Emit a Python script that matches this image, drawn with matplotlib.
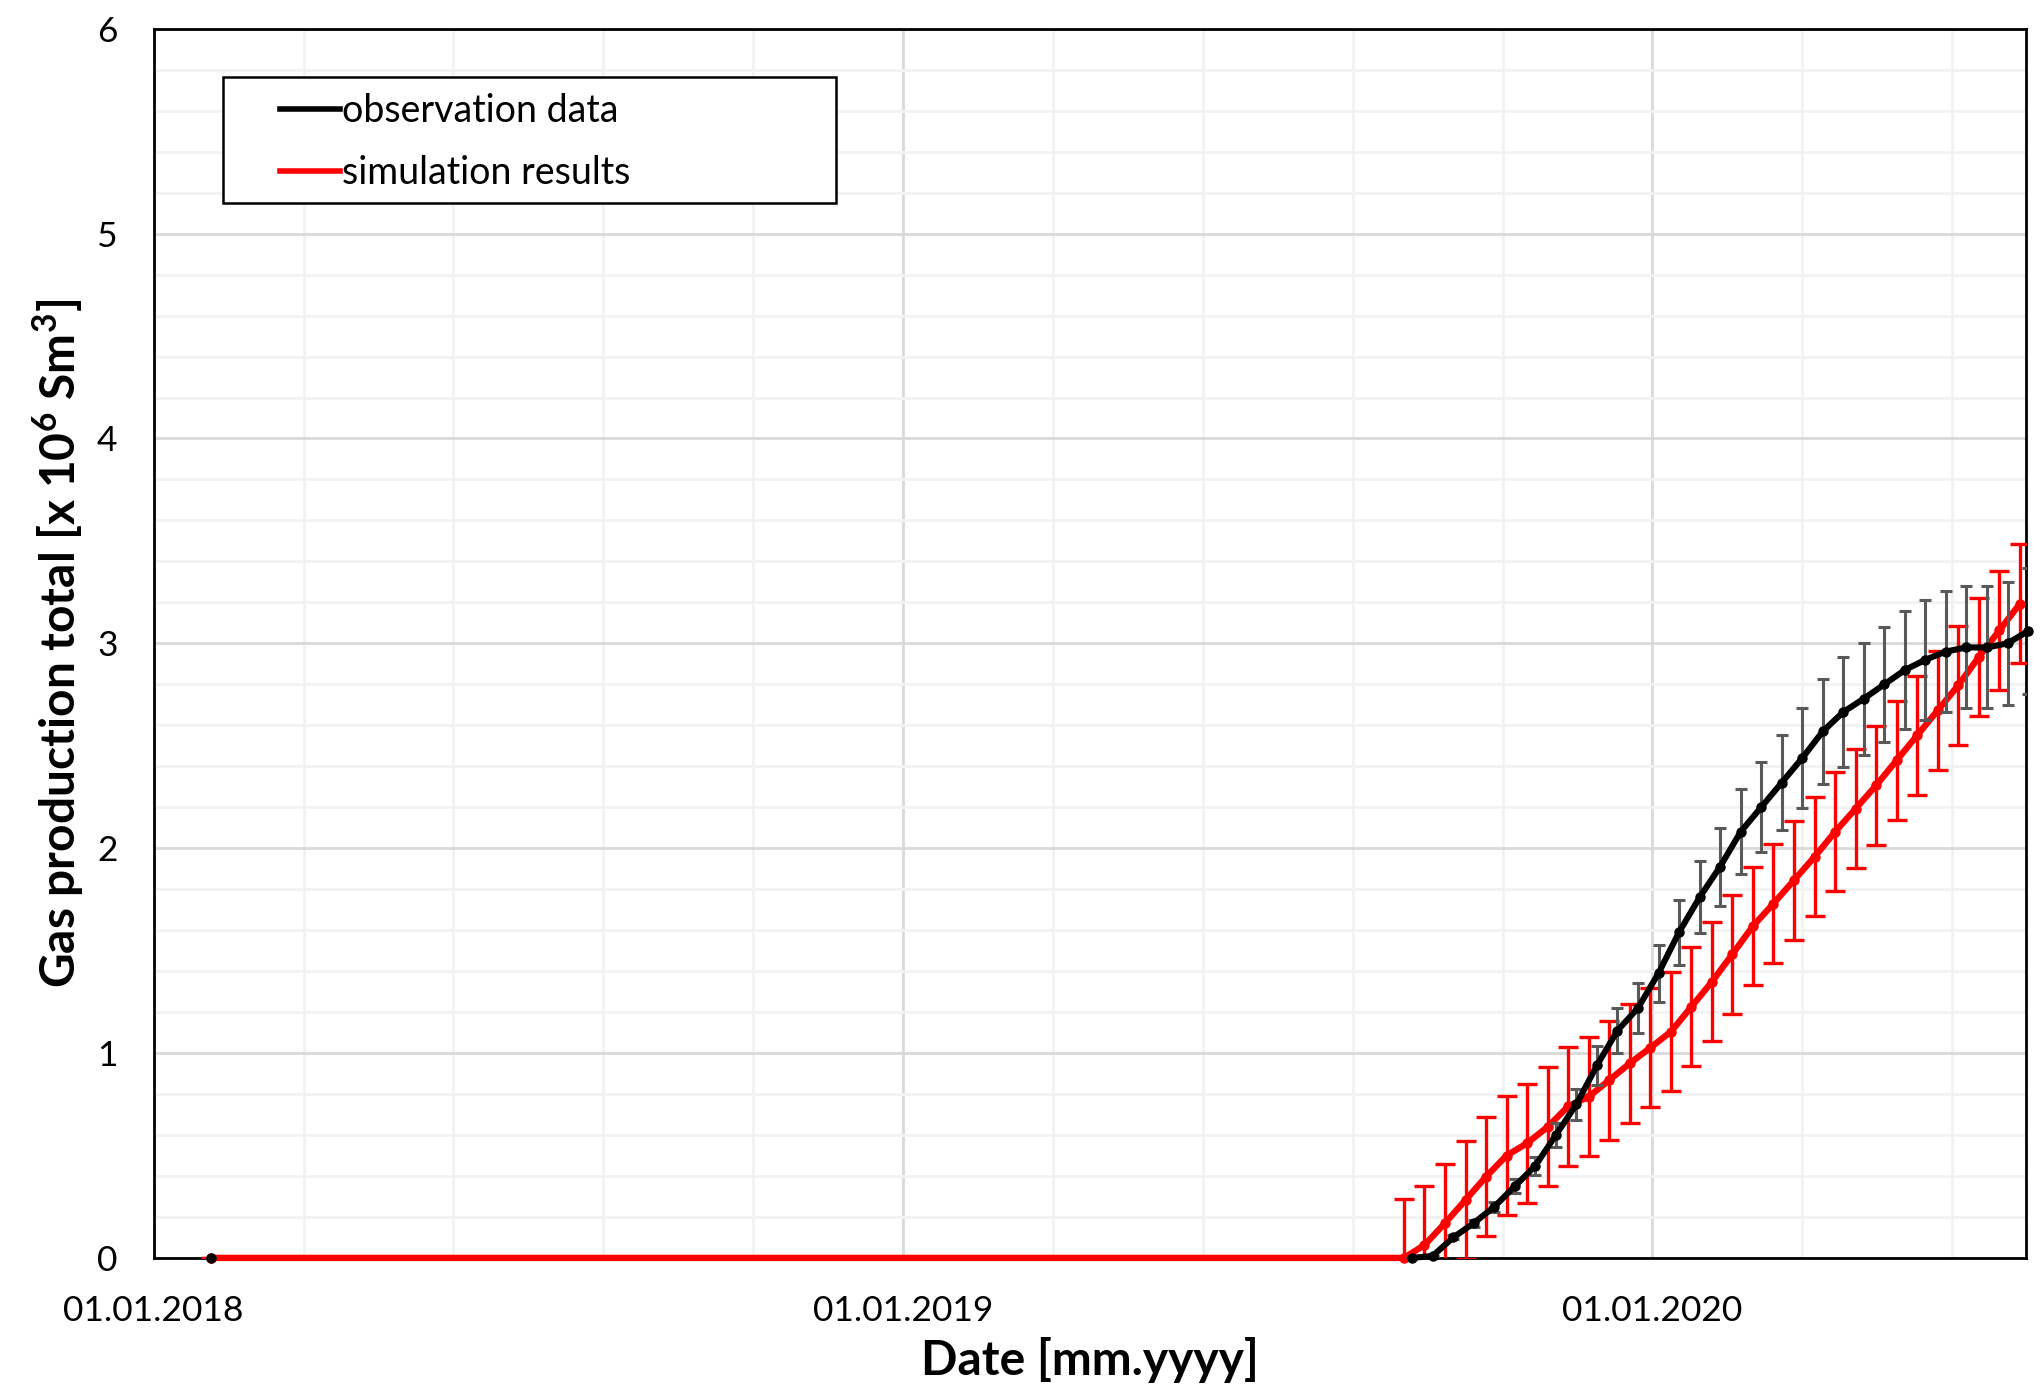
import numpy as np
import pandas as pd
import matplotlib
matplotlib.use("Agg")
import matplotlib.pyplot as plt
import matplotlib.dates as mdates
from matplotlib.patches import Rectangle
from matplotlib.lines import Line2D

plt.rcParams['font.family'] = ['Lato', 'DejaVu Sans']
plt.rcParams['mathtext.fontset'] = 'custom'
plt.rcParams['mathtext.rm'] = 'Lato'
plt.rcParams['mathtext.bf'] = 'Lato:bold'

# both series start with a single zero sample early in 2018
START_DATE = "2018-01-29"
START_VALUE = 0.0

# observation data, one sample every 10 days from OBS_FIRST  [x 10^6 Sm3]
OBS_FIRST = "2019-09-06"
obs_values = [0.00, 0.01, 0.10, 0.17, 0.25, 0.35, 0.45, 0.60, 0.75, 0.94,
              1.11, 1.22, 1.39, 1.59, 1.76, 1.91, 2.08, 2.20, 2.32, 2.44,
              2.57, 2.665, 2.73, 2.80, 2.87, 2.92, 2.96, 2.98, 2.98, 3.00,
              3.06]
OBS_ERR_PCT = 0.10   # percentage error bars

# simulation results, one sample every 10 days from SIM_FIRST
SIM_FIRST = "2019-09-02"
sim_values = [0.00, 0.063, 0.17, 0.283, 0.397, 0.50, 0.56, 0.64, 0.74, 0.787,
              0.868, 0.95, 1.026, 1.104, 1.226, 1.348, 1.483, 1.62, 1.73, 1.844,
              1.958, 2.08, 2.193, 2.307, 2.429, 2.551, 2.673, 2.795, 2.933, 3.063,
              3.193]
SIM_ERR = 0.29       # fixed error bars

STEP_DAYS = 10

X_MIN = "2018-01-01"
X_MAX = "2020-07-01"
YEAR_TICKS = ["2018-01-01", "2019-01-01", "2020-01-01"]
MINOR_STEP_DAYS = 73

obs_dates = pd.date_range(OBS_FIRST, periods=len(obs_values), freq=f"{STEP_DAYS}D")
sim_dates = pd.date_range(SIM_FIRST, periods=len(sim_values), freq=f"{STEP_DAYS}D")
obs = np.array(obs_values)
sim = np.array(sim_values)
t0 = pd.Timestamp(START_DATE)

fig = plt.figure(figsize=(20.44, 13.96), dpi=100)
ax = fig.add_axes([0.0752, 0.0989, 0.9160, 0.8805])

# simulation (red) - includes the early zero sample
sim_x = [t0] + list(sim_dates)
sim_y = [START_VALUE] + list(sim)
ax.errorbar(sim_x, sim_y, yerr=[0.0] + [SIM_ERR] * len(sim), fmt='none',
            ecolor='#ff0000', elinewidth=2.4, capsize=7, capthick=2.4, zorder=3)
ax.plot(sim_x, sim_y, color='#ff0000', lw=4.6, marker='o', ms=6.5,
        zorder=4, clip_on=False)

# observation (black) - lone start point, then the Sep 2019 onwards record
ax.errorbar(list(obs_dates), obs, yerr=OBS_ERR_PCT * obs, fmt='none',
            ecolor='#595959', elinewidth=2.2, capsize=4.5, capthick=2.2, zorder=5)
ax.errorbar([t0], [START_VALUE], yerr=[0.0], fmt='none',
            ecolor='#595959', elinewidth=2.2, capsize=4.5, capthick=2.2, zorder=5)
ax.plot(obs_dates, obs, color='black', lw=4.4, marker='o', ms=6.5,
        zorder=6, clip_on=False)
ax.plot([t0], [START_VALUE], color='black', marker='o', ms=6.5, zorder=6, clip_on=False)

# axes
ax.set_xlim(pd.Timestamp(X_MIN), pd.Timestamp(X_MAX))
ax.set_ylim(0, 6)
ax.set_yticks(np.arange(0, 7, 1))
ax.set_yticks(np.arange(0, 6.01, 0.2), minor=True)
ax.set_xticks([pd.Timestamp(d) for d in YEAR_TICKS])
ax.set_xticks(pd.date_range(X_MIN, X_MAX, freq=f"{MINOR_STEP_DAYS}D"), minor=True)
ax.xaxis.set_major_formatter(mdates.DateFormatter('%d.%m.%Y'))

ax.grid(which='minor', color='#f2f2f2', lw=2.0)
ax.grid(which='major', color='#d9d9d9', lw=2.0)
ax.set_axisbelow(True)

ax.tick_params(which='both', length=0, labelsize=25.5)
ax.tick_params(axis='x', pad=27)
ax.tick_params(axis='y', pad=26)
for s in ax.spines.values():
    s.set_linewidth(2.0)
    s.set_color('black')

ax.set_xlabel('Date [mm.yyyy]', fontsize=34.5, fontweight='bold', labelpad=7)
ax.set_ylabel(r'Gas production total [x 10$^{\mathbf{6}}$ Sm$^{\mathbf{3}}$]',
              fontsize=34.5, fontweight='bold', labelpad=8)

# legend: frame drawn separately so the box can be wider than its content
ax.add_patch(Rectangle((0.037, 0.8582), 0.3274, 0.1025, transform=ax.transAxes,
                       facecolor='white', edgecolor='black', lw=1.8, zorder=7))
handles = [Line2D([], [], color='black', lw=4.0),
           Line2D([], [], color='#ff0000', lw=4.0)]
leg = ax.legend(handles, ['observation data', 'simulation results'],
                loc='upper left', bbox_to_anchor=(0.0577, 0.963), frameon=False,
                fontsize=27, handlelength=1.6, handletextpad=0.05,
                labelspacing=0.7, borderpad=0.0)
leg.set_zorder(8)

fig.savefig('out.png', dpi=100)
